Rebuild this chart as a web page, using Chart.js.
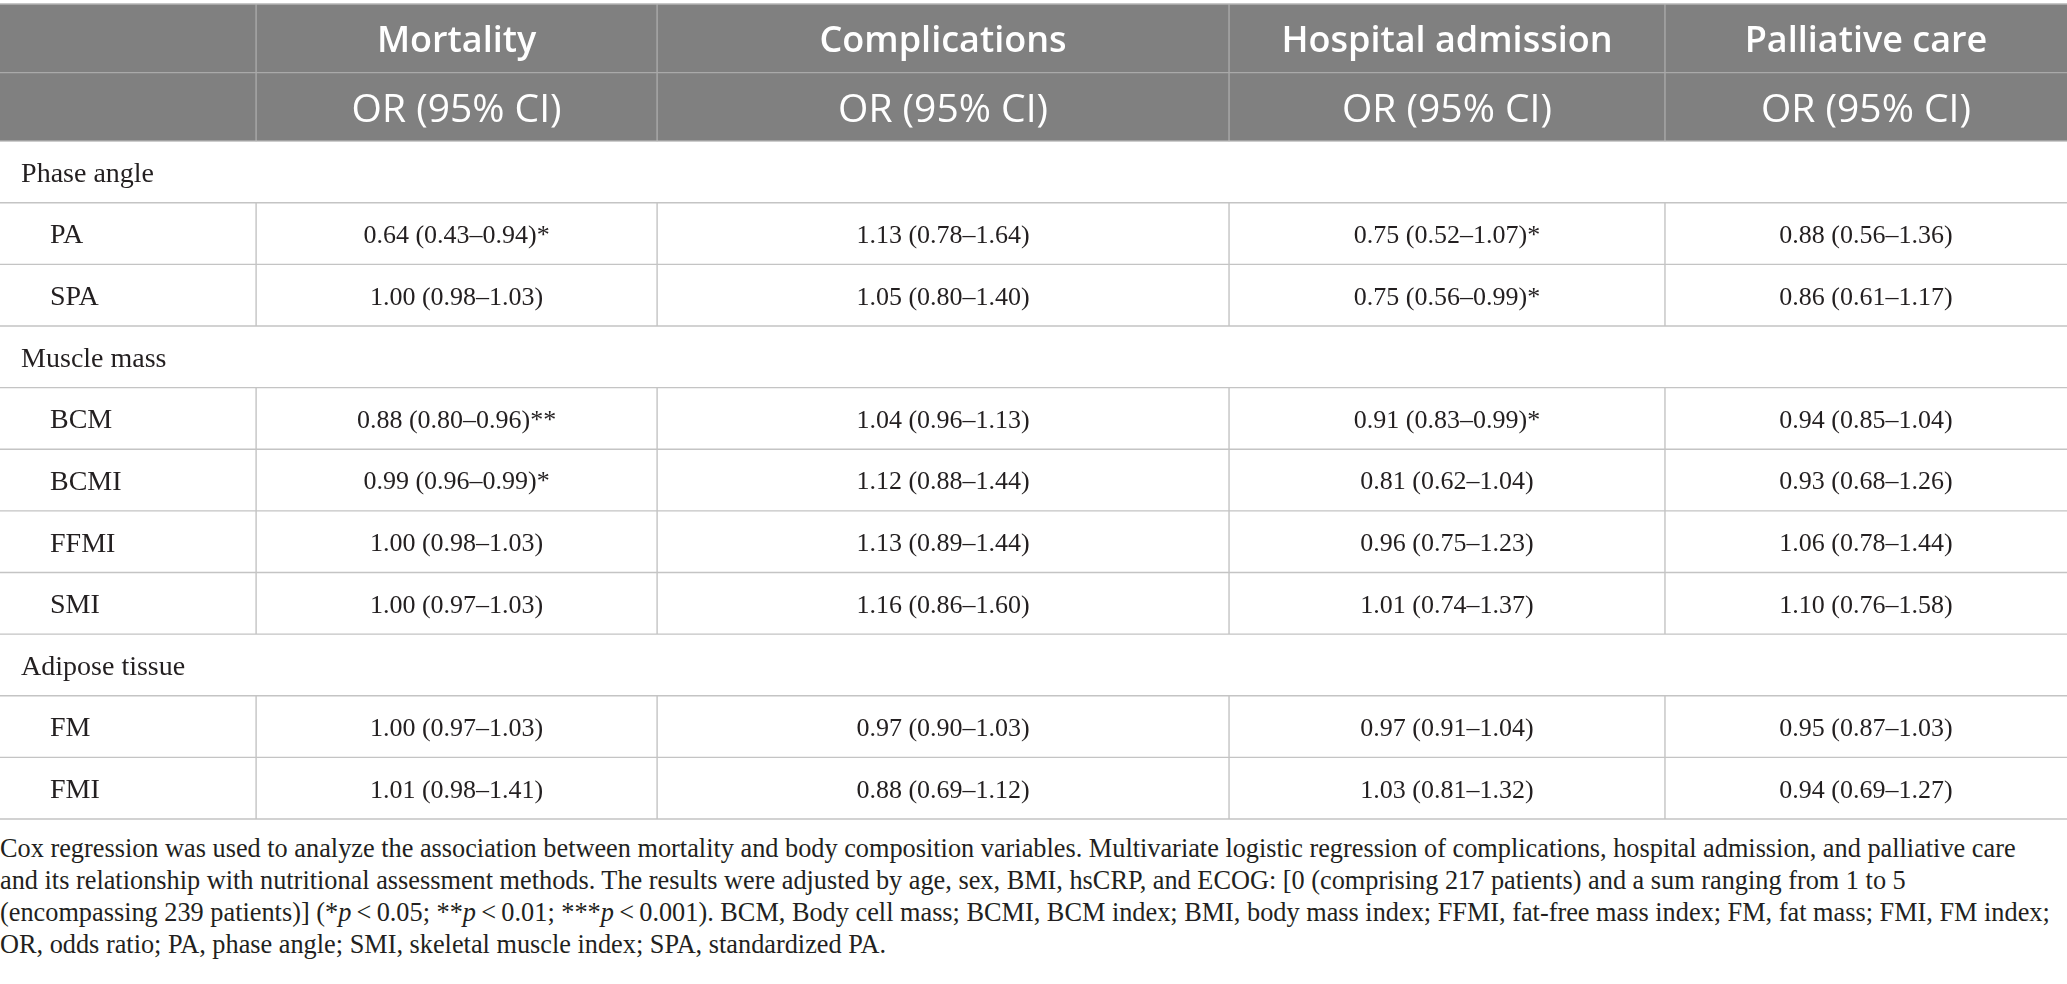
<!DOCTYPE html>
<html>
<head>
<meta charset="utf-8">
<script src="https://cdn.jsdelivr.net/npm/chart.js@4"></script>
<style>
  html, body { margin: 0; padding: 0; background: #fff; }
  #wrap { position: relative; width: 2067px; height: 984px; }
  #table { position: absolute; left: 0; top: 0; }
  .cap {
    position: absolute; left: 0; height: 32px;
    font-family: "Liberation Serif", serif; font-size: 26.3px; line-height: 32px;
    color: #231f20; white-space: nowrap;
  }
</style>
</head>
<body>
<div id="wrap">
  <canvas id="table" width="2067" height="830"></canvas>
  <div class="cap" style="top:833px">Cox regression was used to analyze the association between mortality and body composition variables. Multivariate logistic regression of complications, hospital admission, and palliative care</div>
  <div class="cap" style="top:865px">and its relationship with nutritional assessment methods. The results were adjusted by age, sex, BMI, hsCRP, and ECOG: [0 (comprising 217 patients) and a sum ranging from 1 to 5</div>
  <div class="cap" style="top:897px">(encompassing 239 patients)] (*<i>p</i>&#8201;&lt;&#8201;0.05; **<i>p</i>&#8201;&lt;&#8201;0.01; ***<i>p</i>&#8201;&lt;&#8201;0.001). BCM, Body cell mass; BCMI, BCM index; BMI, body mass index; FFMI, fat-free mass index; FM, fat mass; FMI, FM index;</div>
  <div class="cap" style="top:929px">OR, odds ratio; PA, phase angle; SMI, skeletal muscle index; SPA, standardized PA.</div>
</div>
<script>
var columns = ["Mortality", "Complications", "Hospital admission", "Palliative care"];
var statLabel = "OR (95% CI)";
var sections = ["Phase angle", "Muscle mass", "Adipose tissue"];
var variables = ["PA", "SPA", "BCM", "BCMI", "FFMI", "SMI", "FM", "FMI"];
var variableSection = [0, 0, 1, 1, 1, 1, 2, 2];

var mortality = ["0.64 (0.43–0.94)*", "1.00 (0.98–1.03)", "0.88 (0.80–0.96)**", "0.99 (0.96–0.99)*",
  "1.00 (0.98–1.03)", "1.00 (0.97–1.03)", "1.00 (0.97–1.03)", "1.01 (0.98–1.41)"];
var complications = ["1.13 (0.78–1.64)", "1.05 (0.80–1.40)", "1.04 (0.96–1.13)", "1.12 (0.88–1.44)",
  "1.13 (0.89–1.44)", "1.16 (0.86–1.60)", "0.97 (0.90–1.03)", "0.88 (0.69–1.12)"];
var hospital = ["0.75 (0.52–1.07)*", "0.75 (0.56–0.99)*", "0.91 (0.83–0.99)*", "0.81 (0.62–1.04)",
  "0.96 (0.75–1.23)", "1.01 (0.74–1.37)", "0.97 (0.91–1.04)", "1.03 (0.81–1.32)"];
var palliative = ["0.88 (0.56–1.36)", "0.86 (0.61–1.17)", "0.94 (0.85–1.04)", "0.93 (0.68–1.26)",
  "1.06 (0.78–1.44)", "1.10 (0.76–1.58)", "0.95 (0.87–1.03)", "0.94 (0.69–1.27)"];

// layout (fractions of width, row heights in body-row units)
var colEdges = [0, 0.1239, 0.3179, 0.5946, 0.8055, 1];
var sectionIndent = 0.0102;
var varIndent = 0.0242;
var headerRowH = 1.113;
var ink = "#231f20";

// build row list
var rows = [];
sections.forEach(function(s, si) {
  rows.push({ type: "section", label: s });
  variables.forEach(function(v, vi) {
    if (variableSection[vi] == si) {
      rows.push({ type: "var", label: v, cells: [mortality[vi], complications[vi], hospital[vi], palliative[vi]] });
    }
  });
});
var rowTops = [0, headerRowH, headerRowH * 2];
for (var i = 0; i < rows.length; i++) rowTops.push(rowTops[rowTops.length - 1] + 1);
var totalH = rowTops[rowTops.length - 1];

var tablePlugin = {
  id: "tablePlugin",
  beforeDatasetsDraw: function(chart) {
    var ctx = chart.ctx;
    var xs = chart.scales.x, ys = chart.scales.y;
    var X = function(v) { return xs.getPixelForValue(v); };
    var Y = function(v) { return ys.getPixelForValue(v); };
    var left = X(0), right = X(1);

    ctx.save();
    // header background
    ctx.fillStyle = "#808080";
    ctx.fillRect(left, Y(0), right - left, Y(rowTops[2]) - Y(0));

    ctx.lineWidth = 1.4;
    // header separators
    ctx.strokeStyle = "#a9a9a9";
    ctx.beginPath();
    ctx.moveTo(left, Y(rowTops[1])); ctx.lineTo(right, Y(rowTops[1]));
    for (var c = 1; c < colEdges.length - 1; c++) {
      ctx.moveTo(X(colEdges[c]), Y(0)); ctx.lineTo(X(colEdges[c]), Y(rowTops[2]));
    }
    ctx.stroke();
    ctx.strokeStyle = "#b4b4b4";
    ctx.beginPath();
    ctx.moveTo(left, Y(0)); ctx.lineTo(right, Y(0));
    ctx.stroke();

    // body grid
    ctx.strokeStyle = "#c4c4c4";
    ctx.beginPath();
    for (var r = 2; r < rowTops.length; r++) {
      ctx.moveTo(left, Y(rowTops[r])); ctx.lineTo(right, Y(rowTops[r]));
    }
    rows.forEach(function(row, i) {
      if (row.type != "var") return;
      for (var c = 1; c < colEdges.length - 1; c++) {
        ctx.moveTo(X(colEdges[c]), Y(rowTops[i + 2])); ctx.lineTo(X(colEdges[c]), Y(rowTops[i + 3]));
      }
    });
    ctx.stroke();

    // header text
    ctx.fillStyle = "#ffffff";
    ctx.textAlign = "center";
    ctx.textBaseline = "middle";
    columns.forEach(function(name, c) {
      var cx = X((colEdges[c + 1] + colEdges[c + 2]) / 2);
      ctx.font = "600 36px 'Open Sans'";
      ctx.fillText(name, cx, Y((rowTops[0] + rowTops[1]) / 2) + 3);
      ctx.font = "39px 'Open Sans'";
      ctx.fillText(statLabel, cx, Y((rowTops[1] + rowTops[2]) / 2) + 4);
    });

    // body text
    ctx.fillStyle = ink;
    rows.forEach(function(row, i) {
      var cy = Y(rowTops[i + 2] + 0.5) + 2.5;
      ctx.font = "28px 'Liberation Serif'";
      ctx.textAlign = "left";
      if (row.type == "section") {
        ctx.fillText(row.label, X(sectionIndent), cy);
      } else {
        ctx.fillText(row.label, X(varIndent), cy);
        ctx.font = "26px 'Liberation Serif'";
        ctx.textAlign = "center";
        row.cells.forEach(function(t, c) {
          ctx.fillText(t, X((colEdges[c + 1] + colEdges[c + 2]) / 2), cy);
        });
      }
    });
    ctx.restore();
  }
};

new Chart(document.getElementById("table"), {
  type: "scatter",
  data: { datasets: [{ data: [], pointRadius: 0 }] },
  options: {
    responsive: false,
    devicePixelRatio: 1,
    animation: false,
    events: [],
    layout: { padding: { top: 4, bottom: 11, left: 0, right: 0 } },
    plugins: { legend: { display: false }, tooltip: { enabled: false } },
    scales: {
      x: { type: "linear", min: 0, max: 1, display: false },
      y: { type: "linear", min: 0, max: totalH, reverse: true, display: false }
    }
  },
  plugins: [tablePlugin]
});
</script>
</body>
</html>
